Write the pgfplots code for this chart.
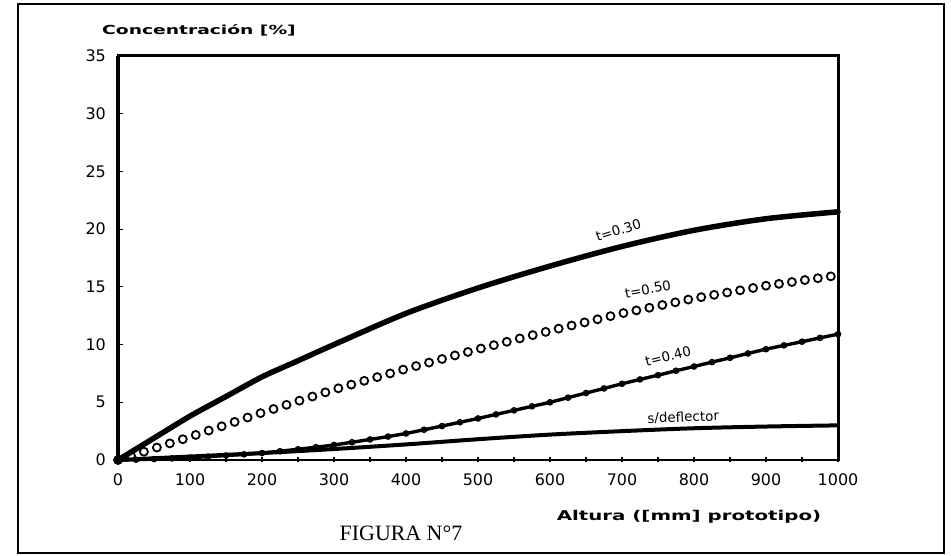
\documentclass[border=0pt]{standalone}
\usepackage{pgfplots}
\pgfplotsset{compat=1.18}
\usepackage{fontspec}
\setmainfont{DejaVu Sans}
\newfontfamily\figfont{Liberation Serif}
\begin{document}
\begin{tikzpicture}
\path[use as bounding box] (0,0) rectangle (951bp,556bp);
\fill[white] (0,0) rectangle (951bp,556bp);
\draw[line width=1.6bp] (18bp,3bp) rectangle (944bp,552bp);
\node at (199bp,526bp) {\scalebox{1.5}[1]{\bfseries\fontsize{12.5}{12.5}\selectfont Concentración [\%]}};
\node at (689bp,39bp) {\scalebox{1.47}[1]{\bfseries\fontsize{13.5}{13.5}\selectfont Altura ([mm] prototipo)}};
\node at (401bp,23bp) {\figfont\fontsize{22}{22}\selectfont FIGURA N°7};
\begin{axis}[
  at={(118bp,96bp)}, anchor=south west, scale only axis,
  width=720bp, height=404bp,
  xmin=0, xmax=1000, ymin=0, ymax=35,
  clip=false,
  axis line style={line width=2.4bp, black},
  xtick={0,100,...,1000}, minor xtick={50,150,...,950},
  xticklabels={0,100,200,300,400,500,600,700,800,900,1000},
  ytick={0,5,...,35},
  yticklabels={0,5,10,15,20,25,30,35},
  tick style={line width=1.2bp, black},
  major tick length=5bp, minor tick length=5bp,
  xtick pos=bottom, ytick pos=left,
  xtick align=center, ytick align=inside,
  tick label style={font=\fontsize{16}{16}\selectfont},
  xticklabel style={anchor=center, inner sep=0pt, yshift=-17bp},
  yticklabel style={anchor=east, inner sep=0pt, xshift=-12bp},
  /pgf/number format/assume math mode=true,
]
\draw[line width=3.2bp] (axis cs:0,0) -- (axis cs:0,35);
% t = 0.30
\addplot[black, line width=5.5bp, line cap=round, smooth] coordinates {
(0,0) (50,1.9) (100,3.8) (150,5.5) (200,7.2) (250,8.6) (300,10.0) (400,12.7)
(500,14.9) (600,16.8) (700,18.5) (800,19.9) (900,20.9) (1000,21.5)};
% s/deflector
\addplot[black, line width=4bp, line cap=round, smooth] coordinates {
(0,0) (100,0.3) (200,0.6) (300,0.95) (400,1.35) (500,1.8) (600,2.2)
(700,2.5) (800,2.75) (900,2.9) (1000,3.0)};
% t = 0.40
\addplot[black, line width=3.4bp, line cap=round, smooth, mark=o, mark size=2.6bp,
  mark options={line width=1.4bp}] coordinates {
(0,0) (25,0.03) (50,0.08) (75,0.14) (100,0.2) (125,0.29) (150,0.39) (175,0.49)
(200,0.6) (225,0.76) (250,0.93) (275,1.11) (300,1.3) (325,1.54) (350,1.78)
(375,2.03) (400,2.3) (425,2.62) (450,2.94) (475,3.27) (500,3.6) (525,3.95)
(550,4.3) (575,4.65) (600,5.0) (625,5.4) (650,5.8) (675,6.2) (700,6.6)
(725,6.98) (750,7.35) (775,7.73) (800,8.1) (825,8.48) (850,8.85) (875,9.23)
(900,9.6) (925,9.93) (950,10.25) (975,10.58) (1000,10.9)};
% t = 0.50
\addplot[black, only marks, mark=o, mark size=4bp, mark options={line width=1.8bp}] coordinates {
(0,0) (18,0.36) (36,0.72) (54,1.08) (72,1.44) (90,1.80) (108,2.17) (126,2.55)
(144,2.92) (162,3.30) (180,3.68) (198,4.06) (216,4.42) (234,4.78) (252,5.14)
(270,5.50) (288,5.86) (306,6.21) (324,6.53) (342,6.86) (360,7.18) (378,7.50)
(396,7.83) (414,8.14) (432,8.44) (450,8.75) (468,9.06) (486,9.36) (504,9.66)
(522,9.95) (540,10.24) (558,10.53) (576,10.82) (594,11.10) (612,11.38)
(630,11.65) (648,11.92) (666,12.19) (684,12.46) (702,12.73) (720,12.96)
(738,13.19) (756,13.43) (774,13.66) (792,13.90) (810,14.11) (828,14.31)
(846,14.51) (864,14.70) (882,14.90) (900,15.10) (918,15.26) (936,15.42)
(954,15.59) (972,15.75) (990,15.91)};
\node[rotate=17, font=\fontsize{13.5}{13.5}\selectfont] at (axis cs:695,19.9) {t=0.30};
\node[rotate=10, font=\fontsize{13.5}{13.5}\selectfont] at (axis cs:736,14.8) {t=0.50};
\node[rotate=14, font=\fontsize{13.5}{13.5}\selectfont] at (axis cs:764,9.0) {t=0.40};
\node[rotate=2, font=\fontsize{13.5}{13.5}\selectfont] at (axis cs:785,3.7) {s/deflector};
\end{axis}
\draw[line width=3bp, black, line cap=rect] (118bp,500bp) -- (838bp,500bp) -- (838bp,96bp);
\end{tikzpicture}
\end{document}
